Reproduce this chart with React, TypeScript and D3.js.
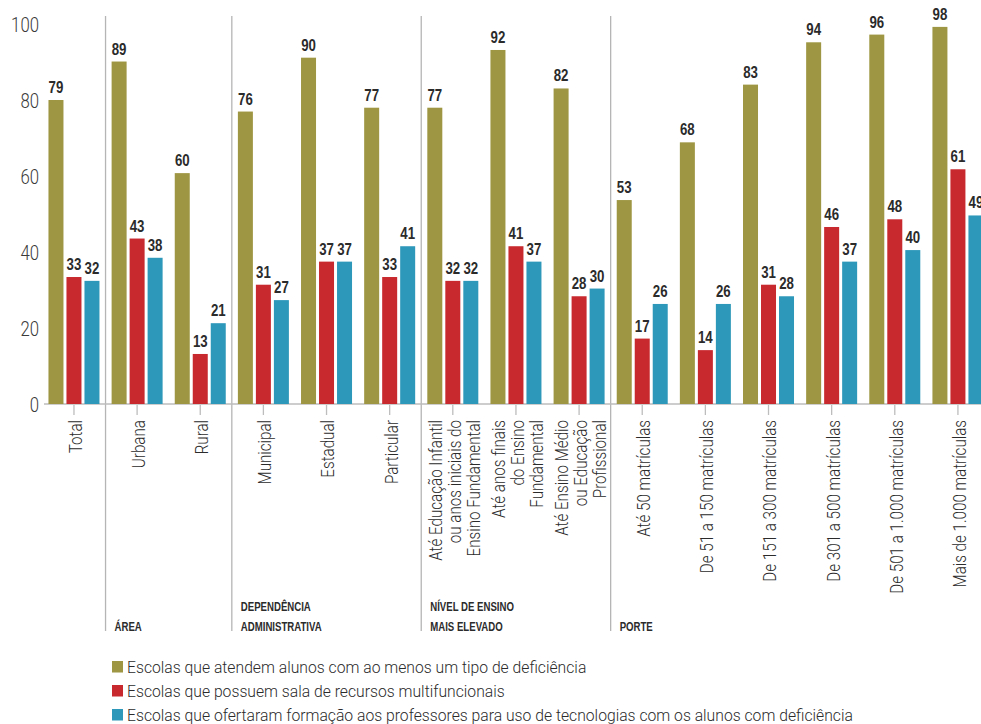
import React from "react";
import * as d3 from "d3";

const categories: string[][] = [
  ["Total"],
  ["Urbana"],
  ["Rural"],
  ["Municipal"],
  ["Estadual"],
  ["Particular"],
  ["Até Educação Infantil", "ou anos iniciais do", "Ensino Fundamental"],
  ["Até anos finais", "do Ensino", "Fundamental"],
  ["Até Ensino Médio", "ou Educação", "Profissional"],
  ["Até 50 matrículas"],
  ["De 51 a 150 matrículas"],
  ["De 151 a 300 matrículas"],
  ["De 301 a 500 matrículas"],
  ["De 501 a 1.000 matrículas"],
  ["Mais de 1.000 matrículas"],
];

const atendem = [79, 89, 60, 76, 90, 77, 77, 92, 82, 53, 68, 83, 94, 96, 98];
const salaRecursos = [33, 43, 13, 31, 37, 33, 32, 41, 28, 17, 14, 31, 46, 48, 61];
const formacao = [32, 38, 21, 27, 37, 41, 32, 37, 30, 26, 26, 28, 37, 40, 49];

const seriesNames = [
  "Escolas que atendem alunos com ao menos um tipo de deficiência",
  "Escolas que possuem sala de recursos multifuncionais",
  "Escolas que ofertaram formação aos professores para uso de tecnologias com os alunos com deficiência",
];
const seriesColors = ["#9E9642", "#C8292E", "#2E98BA"];

const yTicks = [0, 20, 40, 60, 80, 100];

const groupStarts = [1, 3, 6, 9];
const groupLabels: string[][] = [
  ["ÁREA"],
  ["DEPENDÊNCIA", "ADMINISTRATIVA"],
  ["NÍVEL DE ENSINO", "MAIS ELEVADO"],
  ["PORTE"],
];

const W = 981;
const H = 724;
const FONT = "'Liberation Sans', Arial, sans-serif";
const LIGHT = "Roboto, 'Liberation Sans', sans-serif";

export default function App() {
  const series = [atendem, salaRecursos, formacao];
  const idx = categories.map((_, i) => String(i));
  const x = d3.scaleBand<string>().domain(idx).range([42.4, 989.5]).paddingInner(0).paddingOuter(0);
  const y = d3.scaleLinear().domain([0, 100]).range([404, 19.2]);
  const barW = 15;
  const barGap = 3;
  const step = barW + barGap;

  return (
    <svg
      width={W}
      height={H}
      style={{ position: "absolute", left: 0, top: 0, background: "#fff" }}
      fontFamily={FONT}
    >
      {groupStarts.map((gi) => {
        const sx = x(String(gi))!;
        return <line key={"sep" + gi} x1={sx} x2={sx} y1={16} y2={631} stroke="#b5b5b5" strokeWidth={1.3} />;
      })}
      <line x1={44} x2={W} y1={y(0)} y2={y(0)} stroke="#bdbdbd" strokeWidth={1.5} />
      {yTicks.map((t) => (
        <text
          key={"yt" + t}
          transform={`translate(39,${y(t) + 1 + t * 0.05}) scale(0.86,1)`}
          dy="0.36em"
          textAnchor="end"
          fontSize={19.5}
          fill="#3a3a3a"
          fontFamily={LIGHT}
          fontWeight={300}
        >
          {t}
        </text>
      ))}
      {categories.map((_, i) => {
        const cx = x(String(i))! + x.bandwidth() / 2;
        return (
          <g key={"g" + i}>
            {series.map((s, j) => {
              const bx = cx - barW / 2 + (j - 1) * step;
              return (
                <g key={j}>
                  <rect x={bx} y={y(s[i])} width={barW} height={y(0) - y(s[i])} fill={seriesColors[j]} />
                  <text
                    transform={`translate(${bx + barW / 2},${y(s[i]) - 7}) scale(0.78,1)`}
                    textAnchor="middle"
                    fontSize={17}
                    fontWeight={700}
                    fill="#2b2b2b"
                  >
                    {s[i]}
                  </text>
                </g>
              );
            })}
            <line x1={cx} x2={cx} y1={y(0) + 1} y2={y(0) + 11} stroke="#bdbdbd" strokeWidth={1.3} />
          </g>
        );
      })}
      {categories.map((lines, i) => {
        const cx = x(String(i))! + x.bandwidth() / 2;
        const n = lines.length;
        const lh = 19;
        return (
          <g key={"xl" + i}>
            {lines.map((ln, k) => {
              const lx = cx + (k - (n - 1) / 2) * lh + 1;
              return (
                <text
                  key={k}
                  transform={`translate(${lx},420) rotate(-90) scale(0.8,1)`}
                  textAnchor="end"
                  dy="0.36em"
                  fontSize={19}
                  fill="#2b2b2b"
                  fontFamily={LIGHT}
                  fontWeight={300}
                >
                  {ln}
                </text>
              );
            })}
          </g>
        );
      })}
      {groupStarts.map((gi, g) => {
        const sx = x(String(gi))! + 9;
        const lines = groupLabels[g];
        return (
          <g key={"gl" + g}>
            {lines.map((ln, k) => (
              <text
                key={k}
                transform={`translate(${sx},${631 - (lines.length - 1 - k) * 20}) scale(0.77,1)`}
                fontSize={12.5}
                fontWeight={700}
                fill="#2b2b2b"
              >
                {ln}
              </text>
            ))}
          </g>
        );
      })}
      {seriesNames.map((nm, j) => (
        <g key={"lg" + j} transform={`translate(112,${661 + j * 24})`}>
          <rect x={0} y={0} width={11} height={11.5} fill={seriesColors[j]} />
          <text
            transform={`translate(15,6) scale(0.925,1)`}
            dy="0.36em"
            fontSize={17}
            fill="#2b2b2b"
            fontFamily={LIGHT}
            fontWeight={300}
          >
            {nm}
          </text>
        </g>
      ))}
    </svg>
  );
}
